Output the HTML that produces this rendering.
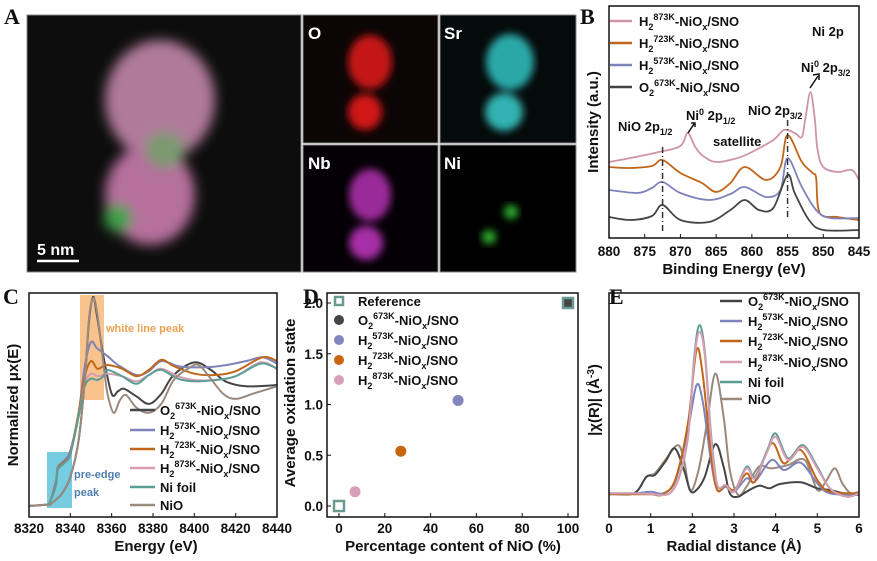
<!DOCTYPE html>
<html><head><meta charset="utf-8"><style>
body{margin:0;background:#fff;}
svg{display:block;font-family:"Liberation Sans",Arial,sans-serif;}
.t{font-weight:bold;font-size:13px;fill:#111;}
.tk{font-weight:bold;font-size:13.5px;fill:#111;}
.ttl{font-weight:bold;font-size:15px;fill:#111;}
.let{font-family:"Liberation Serif",serif;font-weight:bold;font-size:22px;fill:#111;}
</style></head><body>
<svg id="fig" width="877" height="561" viewBox="0 0 877 561">
<defs>
<filter id="blur6"><feGaussianBlur stdDeviation="6"/></filter>
<filter id="blur4"><feGaussianBlur stdDeviation="4"/></filter>
</defs>
<g>
<text class="let" x="4" y="24">A</text>
<rect x="27" y="15" width="274" height="257" fill="#0d0d0d" stroke="#888"/>
<g filter="url(#blur6)">
<ellipse cx="160" cy="100" rx="55" ry="60" fill="#b07a9a"/>
<ellipse cx="150" cy="195" rx="45" ry="50" fill="#b56f9c"/>
<ellipse cx="165" cy="150" rx="20" ry="18" fill="#7a9a70"/>
<ellipse cx="118" cy="218" rx="14" ry="14" fill="#3fa04a"/>
</g>
<line x1="37" y1="261" x2="79" y2="261" stroke="#fff" stroke-width="2.5"/>
<text x="37" y="255" fill="#fff" font-weight="bold" font-size="16">5 nm</text>
<rect x="303" y="15" width="135" height="128" fill="#0c0505" stroke="#888"/>
<g filter="url(#blur4)"><ellipse cx="370" cy="62" rx="22" ry="27" fill="#c41616"/><ellipse cx="365" cy="112" rx="17" ry="18" fill="#d01818"/></g>
<text x="308" y="39" fill="#fff" font-weight="bold" font-size="17">O</text>
<rect x="440" y="15" width="136" height="128" fill="#050a0a" stroke="#888"/>
<g filter="url(#blur4)"><ellipse cx="510" cy="62" rx="24" ry="28" fill="#2aa8a8"/><ellipse cx="504" cy="112" rx="19" ry="19" fill="#30b2b2"/></g>
<text x="444" y="39" fill="#fff" font-weight="bold" font-size="17">Sr</text>
<rect x="303" y="145" width="135" height="127" fill="#050005" stroke="#888"/>
<g filter="url(#blur4)"><ellipse cx="370" cy="195" rx="21" ry="26" fill="#9a2a9a"/><ellipse cx="366" cy="243" rx="17" ry="17" fill="#a62ea6"/></g>
<text x="308" y="169" fill="#fff" font-weight="bold" font-size="17">Nb</text>
<rect x="440" y="145" width="136" height="127" fill="#000" stroke="#888"/>
<g filter="url(#blur4)"><circle cx="511" cy="212" r="7" fill="#2fb02f"/><circle cx="489" cy="237" r="7" fill="#2fb02f"/></g>
<text x="444" y="169" fill="#fff" font-weight="bold" font-size="17">Ni</text>
</g>
<g id="pb"></g>
<g id="pc"></g>
<g id="pd"></g>
<g id="pe"></g>
</svg>
<script>
// ---------- Panel B data (XPS Ni 2p) ----------
const bE_pink = [880,877,873,870,869,868,867,865,862,860,857,855.5,854,853,852.5,851.8,851.2,850.8,850,848,846,845];
const bV_pink = [76,80,86,92,105,92,83,76,80,86,98,108,105,101,120,146,120,88,71,66,68,58];
const bE_orange = [880,877,874,872.5,870,867,865,863,861,858,856,855,853,851.5,851,850.5,848,845];
const bV_orange = [71,70,72,78,65,55,46,55,71,58,71,103,76,65,60,25,21,18];
const bE_blue = [880,876,874,872.5,870,866,863,861,858,856,855,853,851,849,845];
const bV_blue = [48,45,50,56,45,38,44,51,41,48,80,51,28,20,20];
const bE_dark = [880,877,874,872.5,870,866,863,861,859,857,855,854,852,850,845];
const bV_dark = [21,18,22,33,18,16,28,38,28,30,63,45,18,8,8];
const bTicks = [880,875,870,865,860,855,850,845];

// ---------- Panel C data (XANES) ----------
const cE_nio = [8320,8328,8330,8333,8336,8340,8344,8347,8349,8351,8353,8356,8358,8361,8364,8367,8372,8378,8384,8390,8397,8402,8407,8414,8420,8428,8440];
const cV_nio = [0,0.01,0.01,0.05,0.10,0.23,0.52,1.00,1.48,1.65,1.53,1.13,0.89,0.74,0.84,0.88,0.78,0.74,0.81,1.00,1.09,1.12,1.03,0.89,0.85,0.89,0.95];
const cE_o2 = [8320,8328,8330,8333,8336,8340,8344,8347,8349,8351,8353,8356,8360,8363,8366,8372,8378,8384,8390,8400,8408,8415,8425,8440];
const cV_o2 = [0,0.01,0.01,0.05,0.10,0.23,0.52,1.00,1.46,1.66,1.50,1.19,0.89,0.91,0.93,0.87,0.81,0.89,1.04,1.14,1.08,0.99,0.95,0.96];
const cE_h573 = [8320,8328,8330,8333,8334,8337,8340,8344,8347,8350,8353,8358,8363,8372,8378,8384,8392,8400,8412,8425,8433,8440];
const cV_h573 = [0,0.01,0.03,0.20,0.31,0.36,0.44,0.74,1.11,1.30,1.25,1.19,1.12,1.04,1.07,1.15,1.11,1.10,1.11,1.15,1.18,1.13];
const cE_h723 = [8320,8328,8330,8333,8334,8337,8340,8344,8347,8350,8353,8356,8358,8365,8372,8378,8384,8390,8400,8410,8420,8433,8440];
const cV_h723 = [0,0.01,0.03,0.18,0.30,0.35,0.42,0.74,1.03,1.15,1.09,1.11,1.12,1.09,1.03,1.08,1.16,1.11,1.05,1.04,1.07,1.18,1.15];
const cE_h873 = [8320,8328,8330,8333,8334,8337,8340,8344,8347,8350,8353,8356,8358,8365,8372,8378,8384,8392,8400,8410,8420,8432,8440];
const cV_h873 = [0,0.01,0.03,0.16,0.29,0.34,0.41,0.71,0.97,1.05,1.03,1.04,1.05,1.03,0.99,1.04,1.09,1.03,1.00,1.00,1.03,1.14,1.09];
const cE_foil = [8320,8328,8330,8333,8334,8337,8340,8344,8347,8350,8353,8356,8358,8365,8372,8378,8384,8392,8400,8410,8420,8432,8440];
const cV_foil = [0,0.01,0.03,0.16,0.29,0.34,0.41,0.71,0.95,1.01,1.00,1.03,1.08,1.03,0.97,1.04,1.08,1.01,0.99,1.00,1.03,1.13,1.09];
const cTicks = [8320,8340,8360,8380,8400,8420,8440];

// ---------- Panel D data ----------
const dRefX = [0,100];
const dRefY = [0,2.0];
const dSampleX = [100,52,27,7];
const dSampleY = [2.0,1.04,0.54,0.14];
const dXTicks = [0,20,40,60,80,100];
const dYTicks = [0.0,0.5,1.0,1.5,2.0];

// ---------- Panel E data (FT-EXAFS) ----------
const eR_foil = [0,0.5,1.0,1.3,1.5,1.7,1.9,2.05,2.17,2.3,2.45,2.6,2.8,3.0,3.3,3.5,3.8,4.0,4.3,4.65,5.0,5.3,5.7,6.0];
const eV_foil = [0.05,0.05,0.03,0,0.1,0.6,1.8,4.2,5.1,4.3,1.8,0.3,0.3,0.1,0.85,0.55,1.35,1.85,1.1,1.5,0.85,0.2,-0.05,0.05];
const eV_h873 = [0.05,0.05,0.03,0,0.1,0.6,1.8,4.1,4.9,4.2,1.7,0.3,0.3,0.1,0.8,0.5,1.3,1.75,1.05,1.45,0.8,0.2,-0.05,0.05];
const eR_h723 = [0,0.5,1.0,1.3,1.6,1.9,2.1,2.25,2.45,2.6,2.8,3.0,3.3,3.5,3.9,4.2,4.6,5.0,5.3,6.0];
const eV_h723 = [0.02,0.02,0.02,0.02,0.5,2.2,4.35,3.6,1.2,0.15,0.3,0.15,0.65,0.4,1.55,0.95,1.35,0.45,0.1,0.05];
const eV_h573 = [0.02,0.03,0.1,0.05,0.45,2.0,3.3,2.8,1.0,0.15,0.25,0.1,0.5,0.4,1.05,0.75,0.97,0.35,0.05,0];
const eR_o2 = [0,0.6,0.9,1.1,1.35,1.58,1.8,1.95,2.1,2.3,2.55,2.75,2.9,3.1,3.3,3.6,3.85,4.1,4.6,5.0,5.3,5.8,6.0];
const eV_o2 = [0.05,0.05,0.55,0.6,1.0,1.4,0.75,0.13,0.15,0.55,1.53,0.85,0.05,-0.05,0.1,0.28,0.2,0.33,0.38,0.2,0.15,0,0.05];
const eR_nio = [0,0.6,0.9,1.1,1.35,1.65,1.8,1.95,2.15,2.35,2.55,2.75,2.9,3.1,3.3,3.6,3.9,4.3,4.7,5.0,5.2,5.42,5.6,5.8,6.0];
const eV_nio = [0.05,0.05,0.55,0.65,1.05,1.5,1.05,0.13,0.75,2.15,3.65,2.35,0.75,0,0.25,0.85,0.8,0.9,1.05,0.15,0.4,0.8,0.35,0.05,0.1];
const eTicks = [0,1,2,3,4,5,6];

const NS="http://www.w3.org/2000/svg";
function el(parent,tag,attrs){const e=document.createElementNS(NS,tag);for(const k in attrs)e.setAttribute(k,attrs[k]);parent.appendChild(e);return e;}
function linScale(d0,d1,r0,r1){return v=>r0+(v-d0)/(d1-d0)*(r1-r0);}
function smoothPath(xs,ys,sx,sy){
  const p=xs.map((x,i)=>[sx(x),sy(ys[i])]);
  let d="M"+p[0][0].toFixed(1)+","+p[0][1].toFixed(1);
  for(let i=0;i<p.length-1;i++){
    const p0=p[i-1]||p[i],p1=p[i],p2=p[i+1],p3=p[i+2]||p2;
    const c1=[p1[0]+(p2[0]-p0[0])/6,p1[1]+(p2[1]-p0[1])/6];
    const c2=[p2[0]-(p3[0]-p1[0])/6,p2[1]-(p3[1]-p1[1])/6];
    d+="C"+c1[0].toFixed(1)+","+c1[1].toFixed(1)+" "+c2[0].toFixed(1)+","+c2[1].toFixed(1)+" "+p2[0].toFixed(1)+","+p2[1].toFixed(1);
  }
  return d;
}
function sampleLabel2(g,x,y,gas,temp){
  const t=el(g,"text",{x:x,y:y,class:"t"});
  const parts=[[gas,0,13],["2",4,9],[temp,-10,9],["-NiO",6,13],["x",4,9],["/SNO",-4,13]];
  parts.forEach(p=>{const s=el(t,"tspan",{dy:p[1],"font-size":p[2]});s.textContent=p[0];});
  return t;
}
function frame(g,x0,y0,x1,y1){el(g,"rect",{x:x0,y:y0,width:x1-x0,height:y1-y0,fill:"none",stroke:"#111","stroke-width":1.5});}

// ===== Panel B =====
(function(){
const g=document.getElementById("pb");
const sx=linScale(880,845,609,859), sy=v=>238-v;
el(g,"text",{x:580,y:24,class:"let"}).textContent="B";
const cols=["#cf93aa","#c2661a","#7f82bb","#444"];
const es=[bE_pink,bE_orange,bE_blue,bE_dark], vs=[bV_pink,bV_orange,bV_blue,bV_dark];
es.forEach((e,i)=>{const p=el(g,"path",{d:smoothPath(e,vs[i],sx,sy),fill:"none",stroke:cols[i],"stroke-width":1.8});

});
el(g,"line",{x1:sx(872.5),y1:147,x2:sx(872.5),y2:232,stroke:"#333","stroke-width":1.5,"stroke-dasharray":"6,3,1,3"});
el(g,"line",{x1:sx(855),y1:120,x2:sx(855),y2:217,stroke:"#333","stroke-width":1.5,"stroke-dasharray":"6,3,1,3"});
frame(g,609,6,859,238);
bTicks.forEach(t=>{el(g,"line",{x1:sx(t),y1:238,x2:sx(t),y2:234,stroke:"#111"});
const tx=el(g,"text",{x:sx(t),y:256,class:"tk","text-anchor":"middle"});tx.textContent=t;
});
const xt=el(g,"text",{x:734,y:274,class:"ttl","text-anchor":"middle"});xt.textContent="Binding Energy (eV)";

const yt=el(g,"text",{x:0,y:0,class:"ttl","text-anchor":"middle",transform:"translate(598,122) rotate(-90)"});yt.textContent="Intensity (a.u.)";

const gas=["H","H","H","O"],temps=["873K","723K","573K","673K"],ly=[25,47,69,91];
ly.forEach((y,i)=>{el(g,"line",{x1:610,y1:y-4,x2:632,y2:y-4,stroke:cols[i],"stroke-width":2.5});
const t=sampleLabel2(g,639,y+1,gas[i],temps[i]);
});
const n=el(g,"text",{x:812,y:36,class:"t"});n.textContent="Ni 2p";
const a1=el(g,"text",{x:618,y:131,class:"t"});[["NiO 2p",0,13],["1/2",4,9]].forEach(p=>{const s=el(a1,"tspan",{dy:p[1],"font-size":p[2]});s.textContent=p[0];});
const a2=el(g,"text",{x:686,y:120,class:"t"});[["Ni",0,13],["0",-5,9],[" 2p",5,13],["1/2",4,9]].forEach(p=>{const s=el(a2,"tspan",{dy:p[1],"font-size":p[2]});s.textContent=p[0];});
const a3=el(g,"text",{x:713,y:146,class:"t"});a3.textContent="satellite";
const a4=el(g,"text",{x:748,y:115,class:"t"});[["NiO 2p",0,13],["3/2",4,9]].forEach(p=>{const s=el(a4,"tspan",{dy:p[1],"font-size":p[2]});s.textContent=p[0];});
const a5=el(g,"text",{x:801,y:72,class:"t"});[["Ni",0,13],["0",-5,9],[" 2p",5,13],["3/2",4,9]].forEach(p=>{const s=el(a5,"tspan",{dy:p[1],"font-size":p[2]});s.textContent=p[0];});
el(g,"path",{d:"M688,133 L694,124 M691,123 L695,123 L695,127",stroke:"#111","stroke-width":1.5,fill:"none"});
el(g,"path",{d:"M810,88 L818,76 M813,75 L819,74 L819,80",stroke:"#111","stroke-width":1.5,fill:"none"});
})();

// ===== Panel C =====
(function(){
const g=document.getElementById("pc");
const sx=linScale(8320,8440,29,277), sy=v=>506-v*126;
el(g,"text",{x:3,y:304,class:"let"}).textContent="C";
el(g,"rect",{x:80,y:295,width:24,height:105,fill:"#f8b87a","fill-opacity":0.85});
el(g,"rect",{x:47,y:452,width:25,height:56,fill:"#5ec3da","fill-opacity":0.85});
const cols=["#454545","#7f82bb","#c2661a","#d79db3","#5a9e95","#9a8a7e"];
const es=[cE_o2,cE_h573,cE_h723,cE_h873,cE_foil,cE_nio], vs=[cV_o2,cV_h573,cV_h723,cV_h873,cV_foil,cV_nio];
es.forEach((e,i)=>{const p=el(g,"path",{d:smoothPath(e,vs[i],sx,sy),fill:"none",stroke:cols[i],"stroke-width":2});

});
frame(g,29,293,277,517);
cTicks.forEach(t=>{el(g,"line",{x1:sx(t),y1:517,x2:sx(t),y2:513,stroke:"#111"});
const tx=el(g,"text",{x:sx(t),y:533,class:"tk","text-anchor":"middle"});tx.textContent=t;
});
const xt=el(g,"text",{x:156,y:551,class:"ttl","text-anchor":"middle"});xt.textContent="Energy (eV)";

const yt=el(g,"text",{x:0,y:0,class:"ttl","text-anchor":"middle",transform:"translate(18,405) rotate(-90)"});yt.textContent="Normalized μx(E)";

const w=el(g,"text",{x:106,y:332,class:"t",style:"fill:#eda250;font-size:11px"});w.textContent="white line peak";
const p1=el(g,"text",{x:74,y:478,class:"t",style:"fill:#4f7fae;font-size:11px"});p1.textContent="pre-edge";
const p2=el(g,"text",{x:74,y:496,class:"t",style:"fill:#4f7fae;font-size:11px"});p2.textContent="peak";
const gas=["O","H","H","H"],temps=["673K","573K","723K","873K"],ly=[414,434,453,472,491,509];
ly.forEach((y,i)=>{el(g,"line",{x1:130,y1:y-4,x2:155,y2:y-4,stroke:cols[i],"stroke-width":2.5});
let t;
if(i<4)t=sampleLabel2(g,160,y+1,gas[i],temps[i]);
else{t=el(g,"text",{x:160,y:y+1,class:"t"});t.textContent=i===4?"Ni foil":"NiO";}
});
})();

// ===== Panel D =====
(function(){
const g=document.getElementById("pd");
const sx=linScale(0,100,339,568), sy=linScale(0,2,506,303);
el(g,"text",{x:303,y:304,class:"let"}).textContent="D";
frame(g,327,293,578,517);
dXTicks.forEach(t=>{el(g,"line",{x1:sx(t),y1:517,x2:sx(t),y2:513,stroke:"#111"});
const tx=el(g,"text",{x:sx(t),y:533,class:"tk","text-anchor":"middle"});tx.textContent=t;
});
dYTicks.forEach(t=>{el(g,"line",{x1:327,y1:sy(t),x2:331,y2:sy(t),stroke:"#111"});
const tx=el(g,"text",{x:323,y:sy(t)+5,class:"tk","text-anchor":"end"});tx.textContent=t.toFixed(1);
});
const xt=el(g,"text",{x:453,y:551,class:"ttl","text-anchor":"middle"});xt.textContent="Percentage content of NiO (%)";

const yt=el(g,"text",{x:0,y:0,class:"ttl","text-anchor":"middle",transform:"translate(295,403) rotate(-90)"});yt.textContent="Average oxidation state";

const cols=["#444","#8385bd","#c8650f","#d8a0b8"];
dSampleX.forEach((x,i)=>{const c=el(g,"circle",{cx:sx(x),cy:sy(dSampleY[i]),r:5.5,fill:cols[i]});
});
dRefX.forEach((x,i)=>{const r=el(g,"rect",{x:sx(x)-5,y:sy(dRefY[i])-5,width:10,height:10,fill:"none",stroke:"#6a9a93","stroke-width":2.5});
});
const ly=[301,320,340,360,380];
el(g,"rect",{x:335,y:ly[0]-4,width:8,height:8,fill:"none",stroke:"#6a9a93","stroke-width":2.5});
let t0=el(g,"text",{x:358,y:ly[0]+5,class:"t"});t0.textContent="Reference";

const gas=["O","H","H","H"],temps=["673K","573K","723K","873K"];
for(let i=0;i<4;i++){el(g,"circle",{cx:339,cy:ly[i+1],r:5,fill:cols[i]});
const t=sampleLabel2(g,358,ly[i+1]+5,gas[i],temps[i]);
}
})();

// ===== Panel E =====
(function(){
const g=document.getElementById("pe");
const sx=linScale(0,6,609,859), sy=v=>495-v*33.3;
el(g,"text",{x:609,y:304,class:"let"}).textContent="E";
const cols=["#454545","#7f82bb","#c2661a","#d79db3","#5a9e95","#9a8a7e"];
const order=[[eR_nio,eV_nio,5],[eR_o2,eV_o2,0],[eR_h723,eV_h573,1],[eR_h723,eV_h723,2],[eR_foil,eV_foil,4],[eR_foil,eV_h873,3]];
order.forEach(o=>{const p=el(g,"path",{d:smoothPath(o[0],o[1],sx,sy),fill:"none",stroke:cols[o[2]],"stroke-width":2});

});
frame(g,609,293,859,517);
eTicks.forEach(t=>{el(g,"line",{x1:sx(t),y1:517,x2:sx(t),y2:513,stroke:"#111"});
const tx=el(g,"text",{x:sx(t),y:533,class:"tk","text-anchor":"middle"});tx.textContent=t;
});
const xt=el(g,"text",{x:734,y:551,class:"ttl","text-anchor":"middle"});xt.textContent="Radial distance (Å)";

const yt=el(g,"text",{x:0,y:0,class:"ttl","text-anchor":"middle",transform:"translate(599,400) rotate(-90)"});
[["|χ(R)| (Å",0,15],["-3",-5,10],[")",5,15]].forEach(p=>{const s=el(yt,"tspan",{dy:p[1],"font-size":p[2]});s.textContent=p[0];});

const gas=["O","H","H","H"],temps=["673K","573K","723K","873K"],ly=[305,325,345,366,386,403];
ly.forEach((y,i)=>{el(g,"line",{x1:720,y1:y-4,x2:742,y2:y-4,stroke:cols[i],"stroke-width":2.5});
let t;
if(i<4)t=sampleLabel2(g,748,y+1,gas[i],temps[i]);
else{t=el(g,"text",{x:748,y:y+1,class:"t"});t.textContent=i===4?"Ni foil":"NiO";}
});
})();
</script>
</body></html>
